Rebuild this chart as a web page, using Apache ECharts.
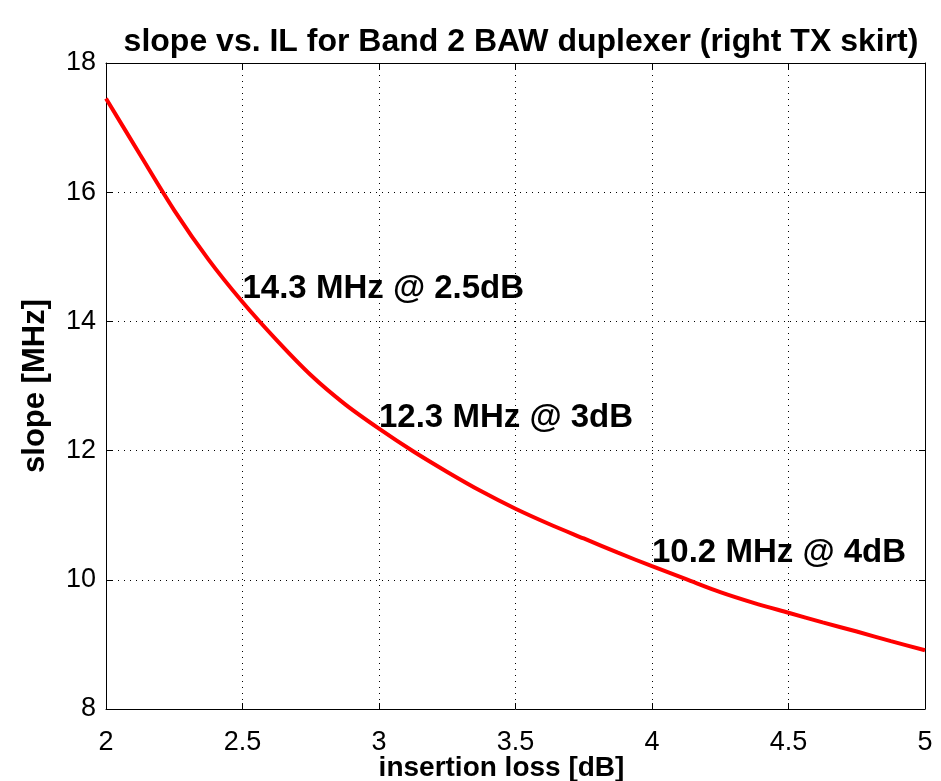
<!DOCTYPE html>
<html>
<head>
<meta charset="utf-8">
<script src="https://cdn.jsdelivr.net/npm/echarts@6/dist/echarts.min.js"></script>
<style>
  html, body { margin: 0; padding: 0; background: #fff; }
  #chart { width: 941px; height: 781px; }
</style>
</head>
<body>
<div id="chart"></div>
<script>
// insertion loss [dB] vs slope [MHz]
const lossDb = [2, 2.125, 2.25, 2.375, 2.5, 2.625, 2.75, 2.875, 3, 3.125, 3.25, 3.375, 3.5,
  3.625, 3.75, 3.875, 4, 4.125, 4.25, 4.375, 4.5, 4.625, 4.75, 4.875, 5];
const slopeMhz = [17.45, 16.58, 15.72, 14.96, 14.30, 13.71, 13.17, 12.72, 12.34, 11.99, 11.67, 11.37, 11.10,
  10.86, 10.64, 10.42, 10.21, 10.01, 9.81, 9.64, 9.49, 9.34, 9.20, 9.05, 8.91];

// text annotations
const noteX = [2.5, 3, 4];
const noteY = [14.5, 12.5, 10.42];
const noteText = ['14.3 MHz @ 2.5dB', '12.3 MHz @ 3dB', '10.2 MHz @ 4dB'];

const font = 'Liberation Sans, Arial, sans-serif';
const chart = echarts.init(document.getElementById('chart'));

const boxAxis = {
  show: true,
  axisLine: { show: true, lineStyle: { color: '#000', width: 1 } },
  axisTick: { show: true, inside: true, length: 6, lineStyle: { color: '#000' } },
  axisLabel: { show: false },
  splitLine: { show: false }
};

chart.setOption({
  animation: false,
  title: {
    text: 'slope vs. IL for Band 2 BAW duplexer (right TX skirt)',
    left: 516,
    textAlign: 'center',
    top: 21,
    textStyle: { fontFamily: font, fontSize: 32, fontWeight: 'bold', color: '#000' }
  },
  grid: { left: 106, right: 16, top: 63, bottom: 72, outerBoundsMode: 'none', containLabel: false },
  xAxis: [{
    type: 'value', min: 2, max: 5, interval: 0.5,
    name: 'insertion loss [dB]', nameLocation: 'middle', nameGap: 45, nameMoveOverlap: false,
    nameTextStyle: { fontFamily: font, fontSize: 28, fontWeight: 'bold', color: '#000', padding: [0, 28, 0, 0] },
    axisLine: { lineStyle: { color: '#000', width: 1 } },
    axisTick: { inside: true, length: 6, lineStyle: { color: '#000' } },
    axisLabel: { fontFamily: font, fontSize: 27, color: '#000', margin: 20 },
    splitLine: { show: true, lineStyle: { color: '#000', type: [1, 5], width: 1 } }
  }, Object.assign({ type: 'value', min: 2, max: 5, interval: 0.5, position: 'top' }, boxAxis)],
  yAxis: [{
    type: 'value', min: 8, max: 18, interval: 2,
    name: 'slope [MHz]', nameLocation: 'middle', nameGap: 55, nameMoveOverlap: false,
    nameTextStyle: { fontFamily: font, fontSize: 31, fontWeight: 'bold', color: '#000' },
    axisLine: { show: true, lineStyle: { color: '#000', width: 1 } },
    axisTick: { show: true, inside: true, length: 6, lineStyle: { color: '#000' } },
    axisLabel: { fontFamily: font, fontSize: 27, color: '#000', margin: 10 },
    splitLine: { show: true, lineStyle: { color: '#000', type: [1, 5], width: 1 } }
  }, Object.assign({ type: 'value', min: 8, max: 18, interval: 2, position: 'right' }, boxAxis)],
  series: [{
    type: 'line',
    data: lossDb.map((x, i) => [x, slopeMhz[i]]),
    smooth: 0.3,
    showSymbol: false,
    lineStyle: { color: '#ff0000', width: 4 },
    z: 3
  }, {
    type: 'scatter',
    symbolSize: 0,
    itemStyle: { color: '#000', opacity: 1 },
    data: noteX.map((x, i) => ({ value: [x, noteY[i]], name: noteText[i] })),
    label: {
      show: true, position: 'right', distance: 0, opacity: 1,
      formatter: p => p.name,
      fontFamily: font, fontSize: 33, fontWeight: 'bold', color: '#000'
    },
    emphasis: { disabled: true },
    z: 4
  }]
});
</script>
</body>
</html>
